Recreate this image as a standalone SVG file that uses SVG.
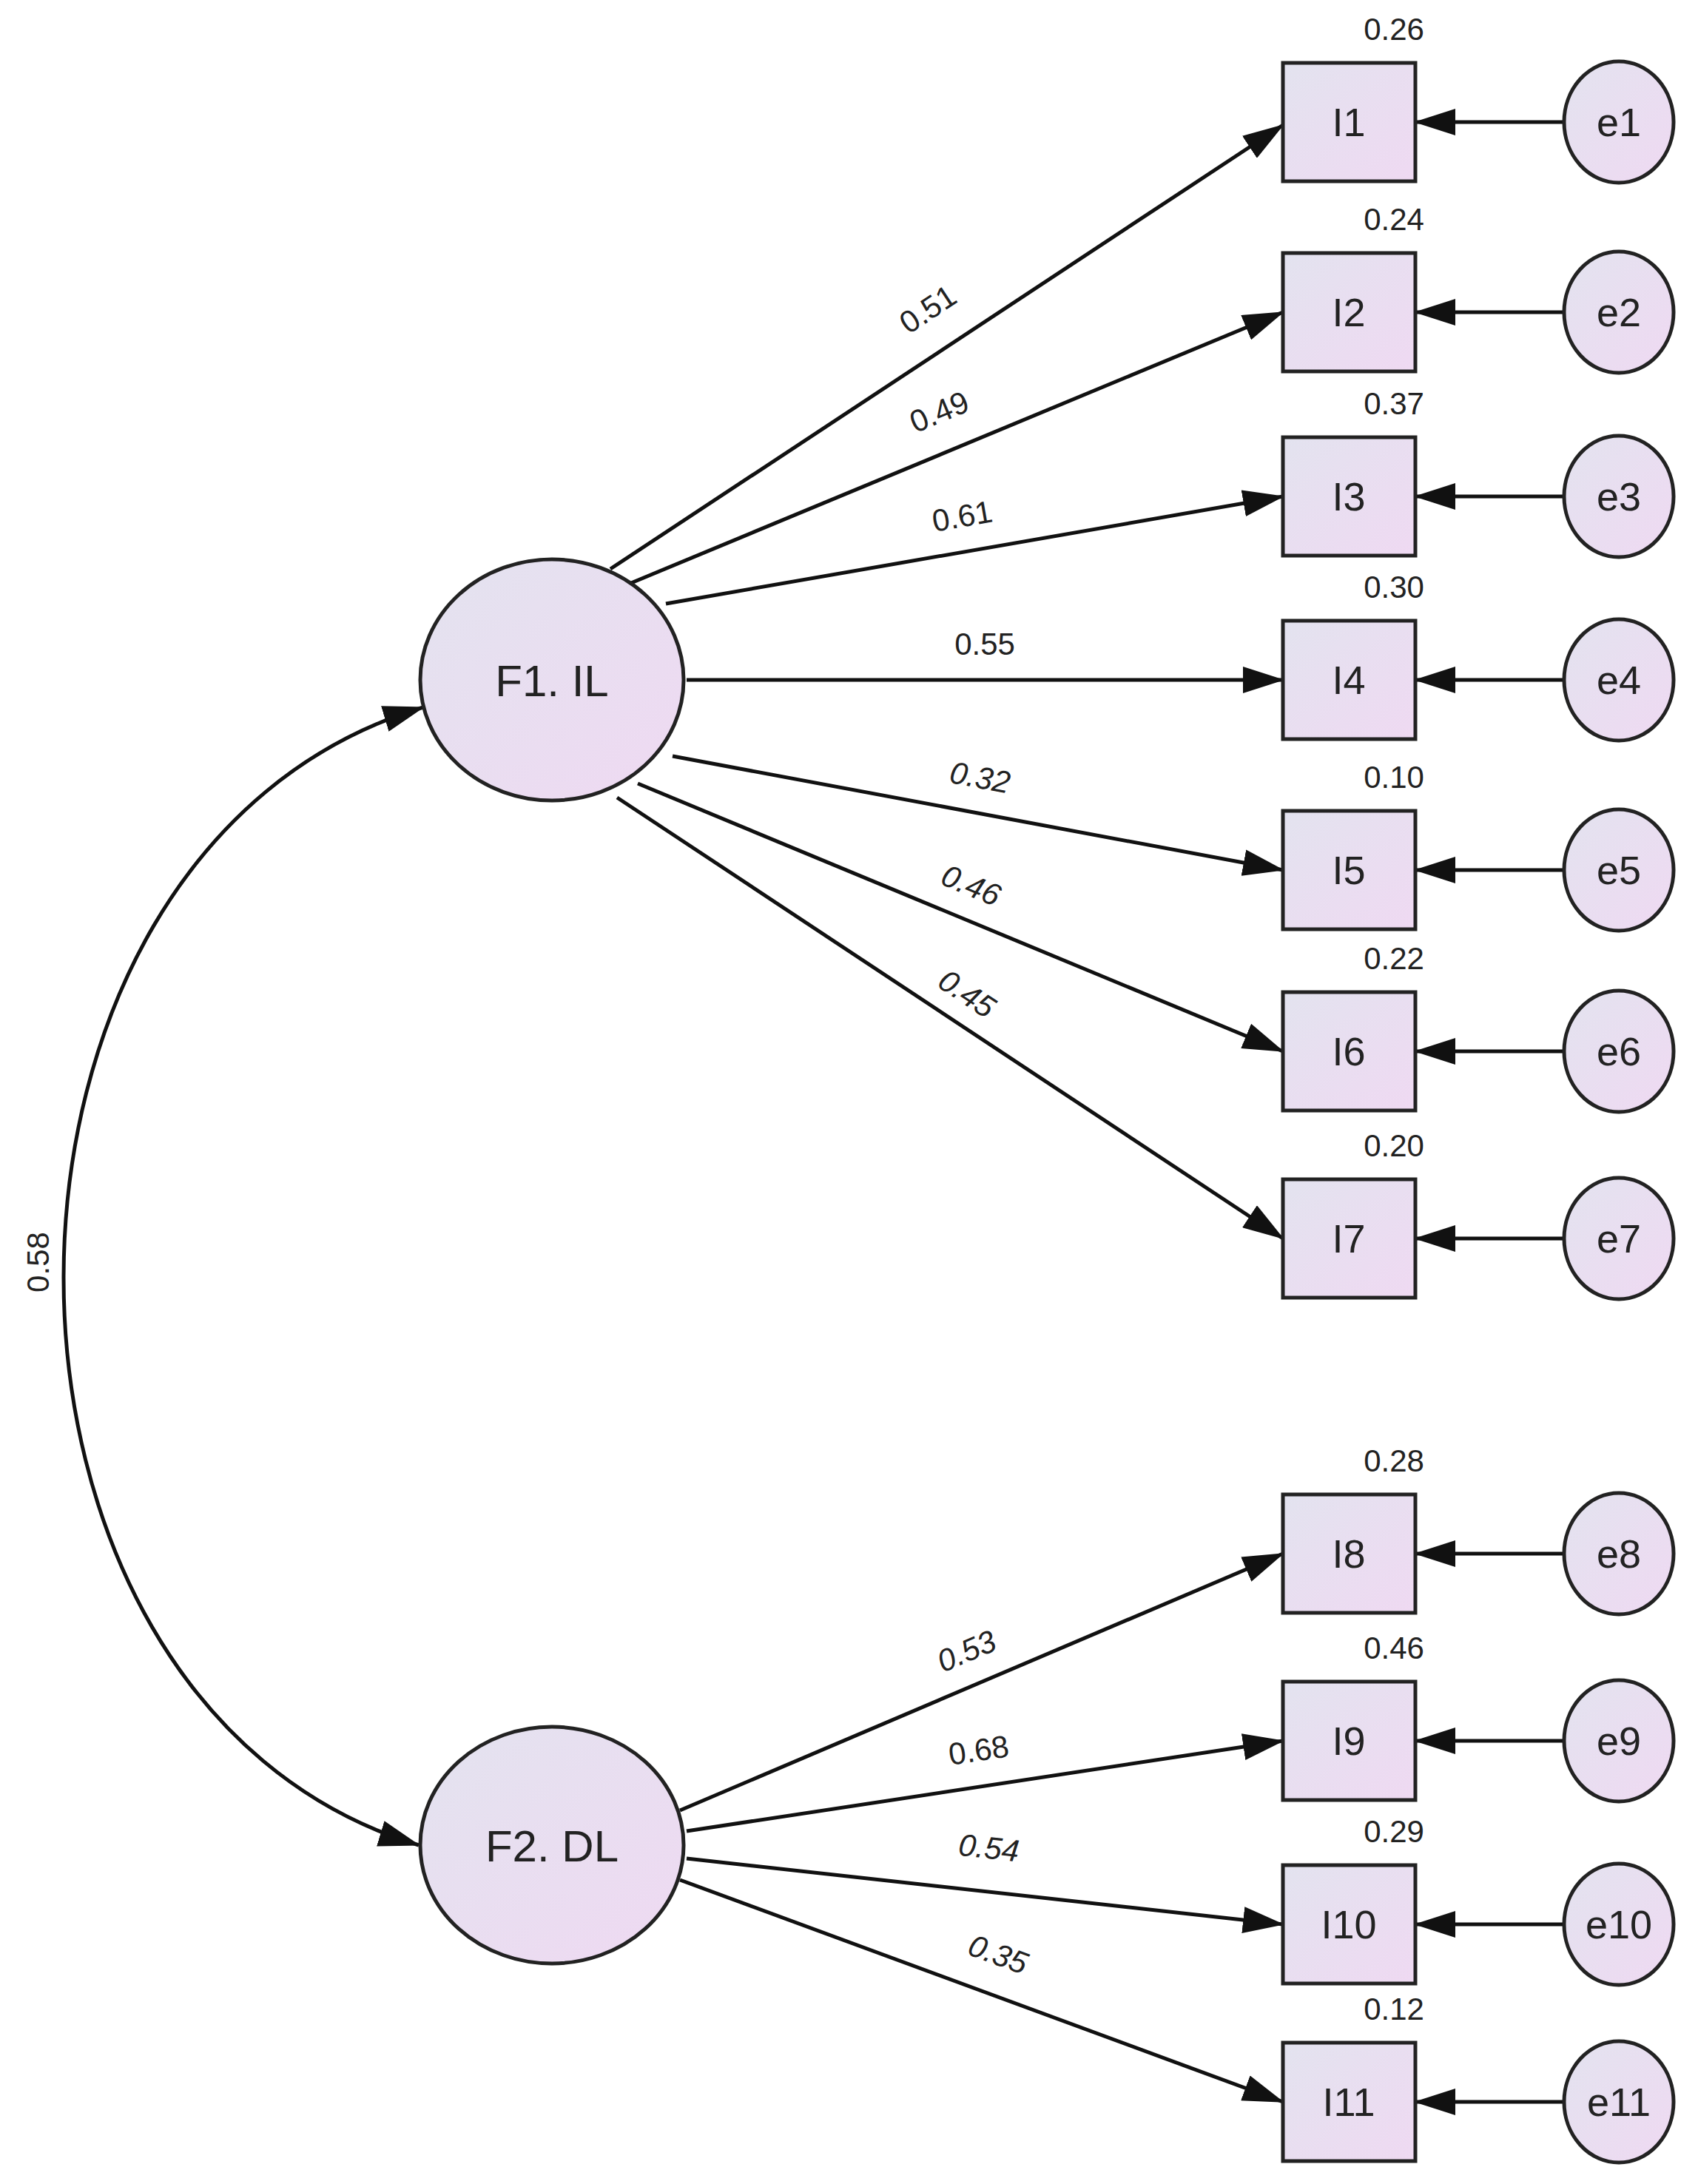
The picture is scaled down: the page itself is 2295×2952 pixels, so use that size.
<svg xmlns="http://www.w3.org/2000/svg" width="2295" height="2952" viewBox="0 0 2295 2952">
<style>
.n{fill:url(#g);stroke:#222;stroke-width:5}
.t{font-family:"Liberation Sans",Arial,sans-serif;fill:#222;text-anchor:middle}
.big{font-size:60px}
.mid{font-size:54px}
.sm{font-size:42px}
.c line,.c path{stroke:#111;stroke-width:5;fill:none}
.c line{marker-end:url(#ah)}
</style>
<defs>
<linearGradient id="g" x1="0" y1="0" x2="1" y2="1"><stop offset="0" stop-color="#e3e3ef"/><stop offset="1" stop-color="#efd9f2"/></linearGradient>
<marker id="ah" markerUnits="userSpaceOnUse" markerWidth="56" markerHeight="36" refX="54" refY="18" orient="auto"><path d="M0,0 L56,18 L0,36 Z" fill="#111"/></marker>
<marker id="as" markerUnits="userSpaceOnUse" markerWidth="56" markerHeight="36" refX="2" refY="18" orient="auto"><path d="M56,0 L0,18 L56,36 Z" fill="#111"/></marker>
</defs>
<rect width="2295" height="2952" fill="#fff"/>
<g class="c" id="connectors">
<path d="M572 956 C -75 1150, -75 2300, 566 2494" marker-end="url(#ah)" marker-start="url(#as)"/>
<line x1="825" y1="769" x2="1734" y2="169"/>
<line x1="853" y1="788" x2="1734" y2="422"/>
<line x1="900" y1="816" x2="1734" y2="671"/>
<line x1="928" y1="919" x2="1734" y2="919"/>
<line x1="909" y1="1022" x2="1734" y2="1176"/>
<line x1="862" y1="1059" x2="1734" y2="1421"/>
<line x1="834" y1="1078" x2="1734" y2="1674"/>
<line x1="919" y1="2447" x2="1734" y2="2100"/>
<line x1="928" y1="2475" x2="1734" y2="2353"/>
<line x1="928" y1="2512" x2="1734" y2="2601"/>
<line x1="919" y1="2541" x2="1734" y2="2841"/>
<line x1="2112" y1="165" x2="1913" y2="165"/>
<line x1="2112" y1="422" x2="1913" y2="422"/>
<line x1="2112" y1="671" x2="1913" y2="671"/>
<line x1="2112" y1="919" x2="1913" y2="919"/>
<line x1="2112" y1="1176" x2="1913" y2="1176"/>
<line x1="2112" y1="1421" x2="1913" y2="1421"/>
<line x1="2112" y1="1674" x2="1913" y2="1674"/>
<line x1="2112" y1="2100" x2="1913" y2="2100"/>
<line x1="2112" y1="2353" x2="1913" y2="2353"/>
<line x1="2112" y1="2601" x2="1913" y2="2601"/>
<line x1="2112" y1="2841" x2="1913" y2="2841"/>
</g>
<g class="t sm" id="path-labels">
<text transform="translate(52,1706) rotate(-90)" dy="14">0.58</text>
<text transform="translate(1262,430) rotate(-33.4)">0.51</text>
<text transform="translate(1275,570) rotate(-22.6)">0.49</text>
<text transform="translate(1303,712) rotate(-9.9)">0.61</text>
<text transform="translate(1331,885)">0.55</text>
<text transform="translate(1322,1065) rotate(10.6)" font-style="italic">0.32</text>
<text transform="translate(1307,1210) rotate(22.5)" font-style="italic">0.46</text>
<text transform="translate(1299,1355) rotate(33.5)" font-style="italic">0.45</text>
<text transform="translate(1312,2245) rotate(-23.1)" font-style="italic">0.53</text>
<text transform="translate(1325,2380) rotate(-8.6)">0.68</text>
<text transform="translate(1335,2512) rotate(6.3)" font-style="italic">0.54</text>
<text transform="translate(1344,2655) rotate(20.2)" font-style="italic">0.35</text>
</g>
<g id="F1"><ellipse class="n" cx="746" cy="919" rx="178" ry="163"/><text class="t big" x="746" y="941">F1. IL</text></g>
<g id="F2"><ellipse class="n" cx="746" cy="2494" rx="178" ry="160"/><text class="t big" x="746" y="2516">F2. DL</text></g>
<g id="I1"><rect class="n" x="1734" y="85" width="179" height="160"/><text class="t mid" x="1823" y="184">I1</text><text class="t sm" x="1884" y="54">0.26</text></g>
<g id="I2"><rect class="n" x="1734" y="342" width="179" height="160"/><text class="t mid" x="1823" y="441">I2</text><text class="t sm" x="1884" y="311">0.24</text></g>
<g id="I3"><rect class="n" x="1734" y="591" width="179" height="160"/><text class="t mid" x="1823" y="690">I3</text><text class="t sm" x="1884" y="560">0.37</text></g>
<g id="I4"><rect class="n" x="1734" y="839" width="179" height="160"/><text class="t mid" x="1823" y="938">I4</text><text class="t sm" x="1884" y="808">0.30</text></g>
<g id="I5"><rect class="n" x="1734" y="1096" width="179" height="160"/><text class="t mid" x="1823" y="1195">I5</text><text class="t sm" x="1884" y="1065">0.10</text></g>
<g id="I6"><rect class="n" x="1734" y="1341" width="179" height="160"/><text class="t mid" x="1823" y="1440">I6</text><text class="t sm" x="1884" y="1310">0.22</text></g>
<g id="I7"><rect class="n" x="1734" y="1594" width="179" height="160"/><text class="t mid" x="1823" y="1693">I7</text><text class="t sm" x="1884" y="1563">0.20</text></g>
<g id="I8"><rect class="n" x="1734" y="2020" width="179" height="160"/><text class="t mid" x="1823" y="2119">I8</text><text class="t sm" x="1884" y="1989">0.28</text></g>
<g id="I9"><rect class="n" x="1734" y="2273" width="179" height="160"/><text class="t mid" x="1823" y="2372">I9</text><text class="t sm" x="1884" y="2242">0.46</text></g>
<g id="I10"><rect class="n" x="1734" y="2521" width="179" height="160"/><text class="t mid" x="1823" y="2620">I10</text><text class="t sm" x="1884" y="2490">0.29</text></g>
<g id="I11"><rect class="n" x="1734" y="2761" width="179" height="160"/><text class="t mid" x="1823" y="2860">I11</text><text class="t sm" x="1884" y="2730">0.12</text></g>
<g id="e1"><ellipse class="n" cx="2188" cy="165" rx="74" ry="82"/><text class="t mid" x="2188" y="184">e1</text></g>
<g id="e2"><ellipse class="n" cx="2188" cy="422" rx="74" ry="82"/><text class="t mid" x="2188" y="441">e2</text></g>
<g id="e3"><ellipse class="n" cx="2188" cy="671" rx="74" ry="82"/><text class="t mid" x="2188" y="690">e3</text></g>
<g id="e4"><ellipse class="n" cx="2188" cy="919" rx="74" ry="82"/><text class="t mid" x="2188" y="938">e4</text></g>
<g id="e5"><ellipse class="n" cx="2188" cy="1176" rx="74" ry="82"/><text class="t mid" x="2188" y="1195">e5</text></g>
<g id="e6"><ellipse class="n" cx="2188" cy="1421" rx="74" ry="82"/><text class="t mid" x="2188" y="1440">e6</text></g>
<g id="e7"><ellipse class="n" cx="2188" cy="1674" rx="74" ry="82"/><text class="t mid" x="2188" y="1693">e7</text></g>
<g id="e8"><ellipse class="n" cx="2188" cy="2100" rx="74" ry="82"/><text class="t mid" x="2188" y="2119">e8</text></g>
<g id="e9"><ellipse class="n" cx="2188" cy="2353" rx="74" ry="82"/><text class="t mid" x="2188" y="2372">e9</text></g>
<g id="e10"><ellipse class="n" cx="2188" cy="2601" rx="74" ry="82"/><text class="t mid" x="2188" y="2620">e10</text></g>
<g id="e11"><ellipse class="n" cx="2188" cy="2841" rx="74" ry="82"/><text class="t mid" x="2188" y="2860">e11</text></g>
</svg>
